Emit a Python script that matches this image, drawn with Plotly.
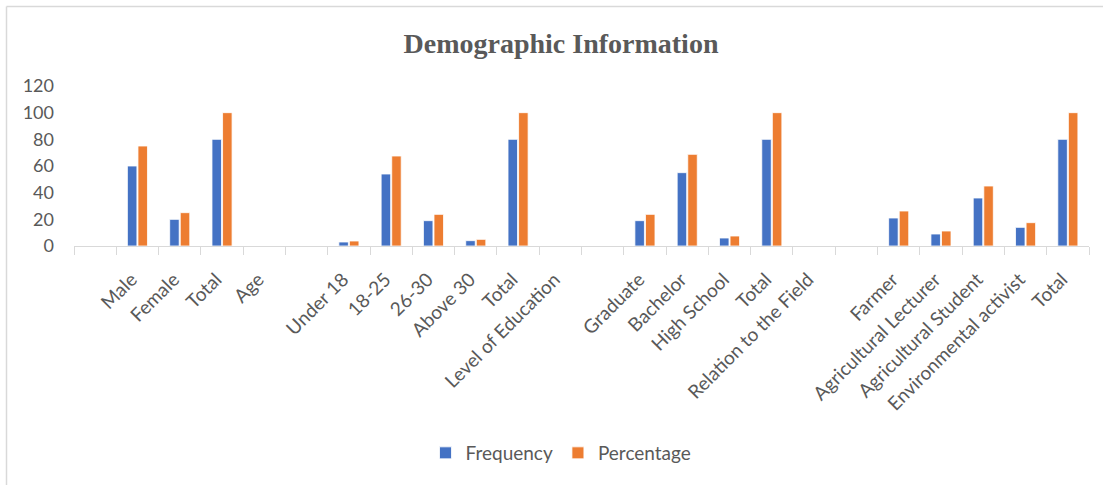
import plotly.graph_objects as go

categories = ["", "Male", "Female", "Total", "Age", "", "Under 18", "18-25", "26-30",
              "Above 30", "Total", "Level of Education", "", "Graduate", "Bachelor",
              "High School", "Total", "Relation to the Field", "", "Farmer",
              "Agricultural Lecturer", "Agricultural Student", "Environmental activist", "Total"]
frequency = [None, 60, 20, 80, None, None, 3, 54, 19, 4, 80, None, None, 19, 55, 6, 80,
             None, None, 21, 9, 36, 14, 80]
percentage = [None, 75, 25, 100, None, None, 3.75, 67.5, 23.75, 5, 100, None, None, 23.75,
              68.75, 7.5, 100, None, None, 26.25, 11.25, 45, 17.5, 100]
y_ticks = [0, 20, 40, 60, 80, 100, 120]

xpos = list(range(len(categories)))
GRAY = "#595959"
LINE = "#d9d9d9"
FONT = "Lato"
LABEL_SHIFT = 0.14  # rotated labels end slightly left of the category centre

fig = go.Figure()
fig.add_trace(go.Bar(x=xpos, y=frequency, name="Frequency",
                     marker=dict(color="#4472C4", line=dict(color="white", width=0.8))))
fig.add_trace(go.Bar(x=xpos, y=percentage, name="Percentage",
                     marker=dict(color="#ED7D31", line=dict(color="white", width=0.8))))

L, R, T, B = 74, 14, 86, 239
W, H = 1103, 485
pw = W - L - R
ph = H - T - B

def px_x(p):
    return (p - L) / pw

def px_y(p):
    return (H - B - p) / ph

fig.update_layout(
    width=W, height=H,
    margin=dict(l=L, r=R, t=T, b=B, pad=0),
    paper_bgcolor="white", plot_bgcolor="white",
    barmode="group", bargap=0.5, bargroupgap=0.1,
    font=dict(family=FONT, color=GRAY, size=18),
    title=dict(text="<b>Demographic Information</b>",
               font=dict(family="Liberation Serif", size=28, color=GRAY),
               xref="container", x=561 / W, xanchor="center",
               yref="container", y=1 - 43 / H, yanchor="middle"),
    legend=dict(orientation="h", xref="container", x=561 / W, xanchor="center",
                yref="container", y=1 - 453 / H, yanchor="middle",
                font=dict(family=FONT, size=19, color=GRAY),
                itemclick=False, traceorder="normal"),
    xaxis=dict(range=[-0.5, len(categories) - 0.5], tickmode="array",
               tickvals=[i - LABEL_SHIFT for i in xpos], ticktext=categories,
               tickangle=-45, ticks="",
               showline=True, linecolor=LINE, linewidth=1, showgrid=False, zeroline=False,
               tickfont=dict(family=FONT, size=19, color=GRAY), ticklabelstandoff=14,
               minor=dict(tickmode="array", tickvals=[i - 0.5 for i in range(len(categories) + 1)],
                          ticks="outside", ticklen=8, tickcolor=LINE, tickwidth=1, showgrid=False)),
    yaxis=dict(range=[0, 120], tickmode="array", tickvals=y_ticks, ticks="",
               showgrid=False, zeroline=False, showline=False,
               tickfont=dict(family=FONT, size=18, color=GRAY), ticklabelstandoff=19),
    shapes=[
        dict(type="line", xref="paper", yref="paper", x0=px_x(6.5), x1=px_x(1200),
             y0=px_y(6.5), y1=px_y(6.5), line=dict(color=LINE, width=1.5)),
        dict(type="line", xref="paper", yref="paper", x0=px_x(6.5), x1=px_x(6.5),
             y0=px_y(6.5), y1=px_y(600), line=dict(color=LINE, width=1.5)),
    ],
)

fig.write_html("out.html")
